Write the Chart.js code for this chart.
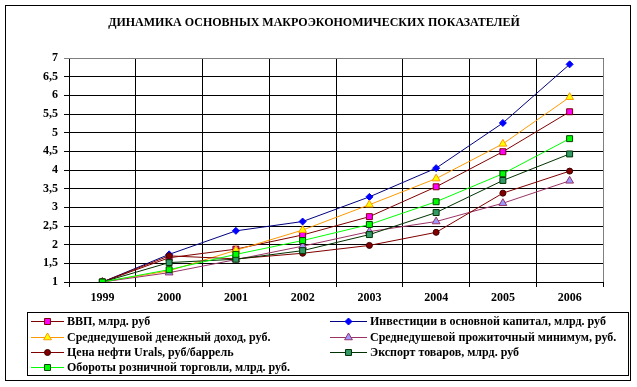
<!DOCTYPE html>
<html>
<head>
<meta charset="utf-8">
<script src="https://cdn.jsdelivr.net/npm/chart.js@4.4.0/dist/chart.umd.min.js"></script>
<style>
  html, body { margin: 0; padding: 0; background: #fff; }
  #wrap { width: 637px; height: 387px; }
</style>
</head>
<body>
<div id="wrap"><canvas id="myChart" width="637" height="387"></canvas></div>
<script>
var years = ['1999', '2000', '2001', '2002', '2003', '2004', '2005', '2006'];

var vvp     = [1, 1.65, 1.88, 2.26, 2.75, 3.55, 4.49, 5.56];
var invest  = [1, 1.74, 2.37, 2.62, 3.28, 4.05, 5.26, 6.83];
var income  = [1, 1.30, 1.85, 2.39, 3.07, 3.77, 4.70, 5.95];
var minimum = [1, 1.25, 1.60, 1.96, 2.35, 2.62, 3.11, 3.71];
var urals   = [1, 1.70, 1.62, 1.77, 1.98, 2.33, 3.38, 3.97];
var exportG = [1, 1.52, 1.61, 1.84, 2.27, 2.86, 3.72, 4.43];
var retail  = [1, 1.33, 1.74, 2.11, 2.54, 3.15, 3.90, 4.84];

var seriesNames = [
	'ВВП, млрд. руб',
	'Инвестиции в основной капитал, млрд. руб',
	'Среднедушевой денежный доход, руб.',
	'Среднедушевой прожиточный минимум, руб.',
	'Цена нефти Urals, руб/баррель',
	'Экспорт товаров, млрд. руб',
	'Обороты розничной торговли, млрд. руб.'
];

var titleText = 'ДИНАМИКА ОСНОВНЫХ МАКРОЭКОНОМИЧЕСКИХ ПОКАЗАТЕЛЕЙ';
var serif = '"Liberation Serif", "Times New Roman", serif';

function series(i, data, line, fill, edge, style, r) {
	return {
		label: seriesNames[i],
		data: data,
		order: 10 - i, // later series on top, like the original
		borderColor: line,
		borderWidth: 1,
		backgroundColor: fill,
		pointBackgroundColor: fill,
		pointBorderColor: edge,
		pointBorderWidth: 1,
		pointStyle: style,
		pointRadius: r,
		pointHoverRadius: r,
		tension: 0,
		fill: false
	};
}

var datasets = [
	series(0, vvp, '#800000', '#FF00FF', '#800000', 'rect', 4.2),
	series(1, invest, '#000080', '#0000FF', '#0000FF', 'rectRot', 3.5),
	series(2, income, '#FF9900', '#FFFF00', '#FF9900', 'triangle', 4.5),
	series(3, minimum, '#993366', '#9999FF', '#993366', 'triangle', 4.5),
	series(4, urals, '#800000', '#800000', '#400000', 'circle', 3),
	series(5, exportG, '#003300', '#339966', '#003300', 'rect', 4.2),
	series(6, retail, '#00FF00', '#00FF00', '#004400', 'rect', 4.2)
];

var framePlugin = {
	id: 'frame',
	beforeDraw: function(chart) {
		var c = chart.ctx;
		c.save();
		c.fillStyle = '#fff';
		c.fillRect(0, 0, chart.width, chart.height);
		c.restore();
	},
	afterDraw: function(chart) {
		var c = chart.ctx;
		var a = chart.chartArea;
		c.save();
		// plot area top/right border
		c.strokeStyle = '#808080';
		c.lineWidth = 1;
		c.beginPath();
		c.moveTo(a.left, a.top + 0.5);
		c.lineTo(a.right + 0.5, a.top + 0.5);
		c.lineTo(a.right + 0.5, a.bottom);
		c.stroke();

		// outer frame
		c.strokeStyle = '#000';
		c.strokeRect(5.5, 5.5, 625, 375);

		// title
		c.fillStyle = '#000';
		c.font = 'bold 12px ' + serif;
		c.textAlign = 'center';
		c.textBaseline = 'middle';
		c.fillText(titleText, 314, 23);

		// legend box
		c.strokeRect(27.5, 312.5, 601, 63);
		c.font = 'bold 12px ' + serif;
		c.textAlign = 'left';
		var cols = [{ x1: 31, x2: 64, tx: 67 }, { x1: 330, x2: 367, tx: 370 }];
		var rows = [321, 337, 352, 367];
		chart.data.datasets.forEach(function(ds, i) {
			var col = cols[i % 2];
			var y = rows[Math.floor(i / 2)];
			c.strokeStyle = ds.borderColor;
			c.lineWidth = 1;
			c.beginPath();
			c.moveTo(col.x1, y + 0.5);
			c.lineTo(col.x2, y + 0.5);
			c.stroke();
			c.fillStyle = ds.pointBackgroundColor;
			c.strokeStyle = ds.pointBorderColor;
			Chart.helpers.drawPoint(c, {
				pointStyle: ds.pointStyle,
				radius: ds.pointRadius,
				borderWidth: 1,
				rotation: 0
			}, (col.x1 + col.x2) / 2, y + 0.5);
			c.fillStyle = '#000';
			c.fillText(ds.label, col.tx, y + 1);
		});
		c.restore();
	}
};

var ctx = document.getElementById('myChart');

var lineChart = new Chart(ctx, {
	type: 'line',
	data: {
		labels: years,
		datasets: datasets
	},
	options: {
		responsive: false,
		animation: false,
		layout: { padding: { left: 5, top: 58, right: 34, bottom: 80 } },
		plugins: {
			legend: { display: false },
			title: { display: false },
			tooltip: { enabled: false }
		},
		scales: {
			x: {
				offset: true,
				grid: { offset: true, color: '#000', lineWidth: 1, tickLength: 5 },
				border: { display: true, color: '#000' },
				ticks: {
					color: '#000',
					padding: 4,
					maxRotation: 0,
					font: { family: serif, size: 12, weight: 'bold' }
				},
				afterFit: function(scale) { scale.height = 25; }
			},
			y: {
				min: 1,
				max: 7,
				grid: {
					lineWidth: 1,
					tickLength: 5,
					color: function(c) { return c.tick && c.tick.value === 7 ? '#808080' : '#000'; }
				},
				border: { display: true, color: '#000' },
				ticks: {
					stepSize: 0.5,
					color: '#000',
					padding: 6,
					font: { family: serif, size: 12, weight: 'bold' },
					callback: function(v) { return String(v).replace('.', ','); }
				},
				afterFit: function(scale) { scale.width = 64; }
			}
		}
	},
	plugins: [framePlugin]
});
</script>
</body>
</html>
